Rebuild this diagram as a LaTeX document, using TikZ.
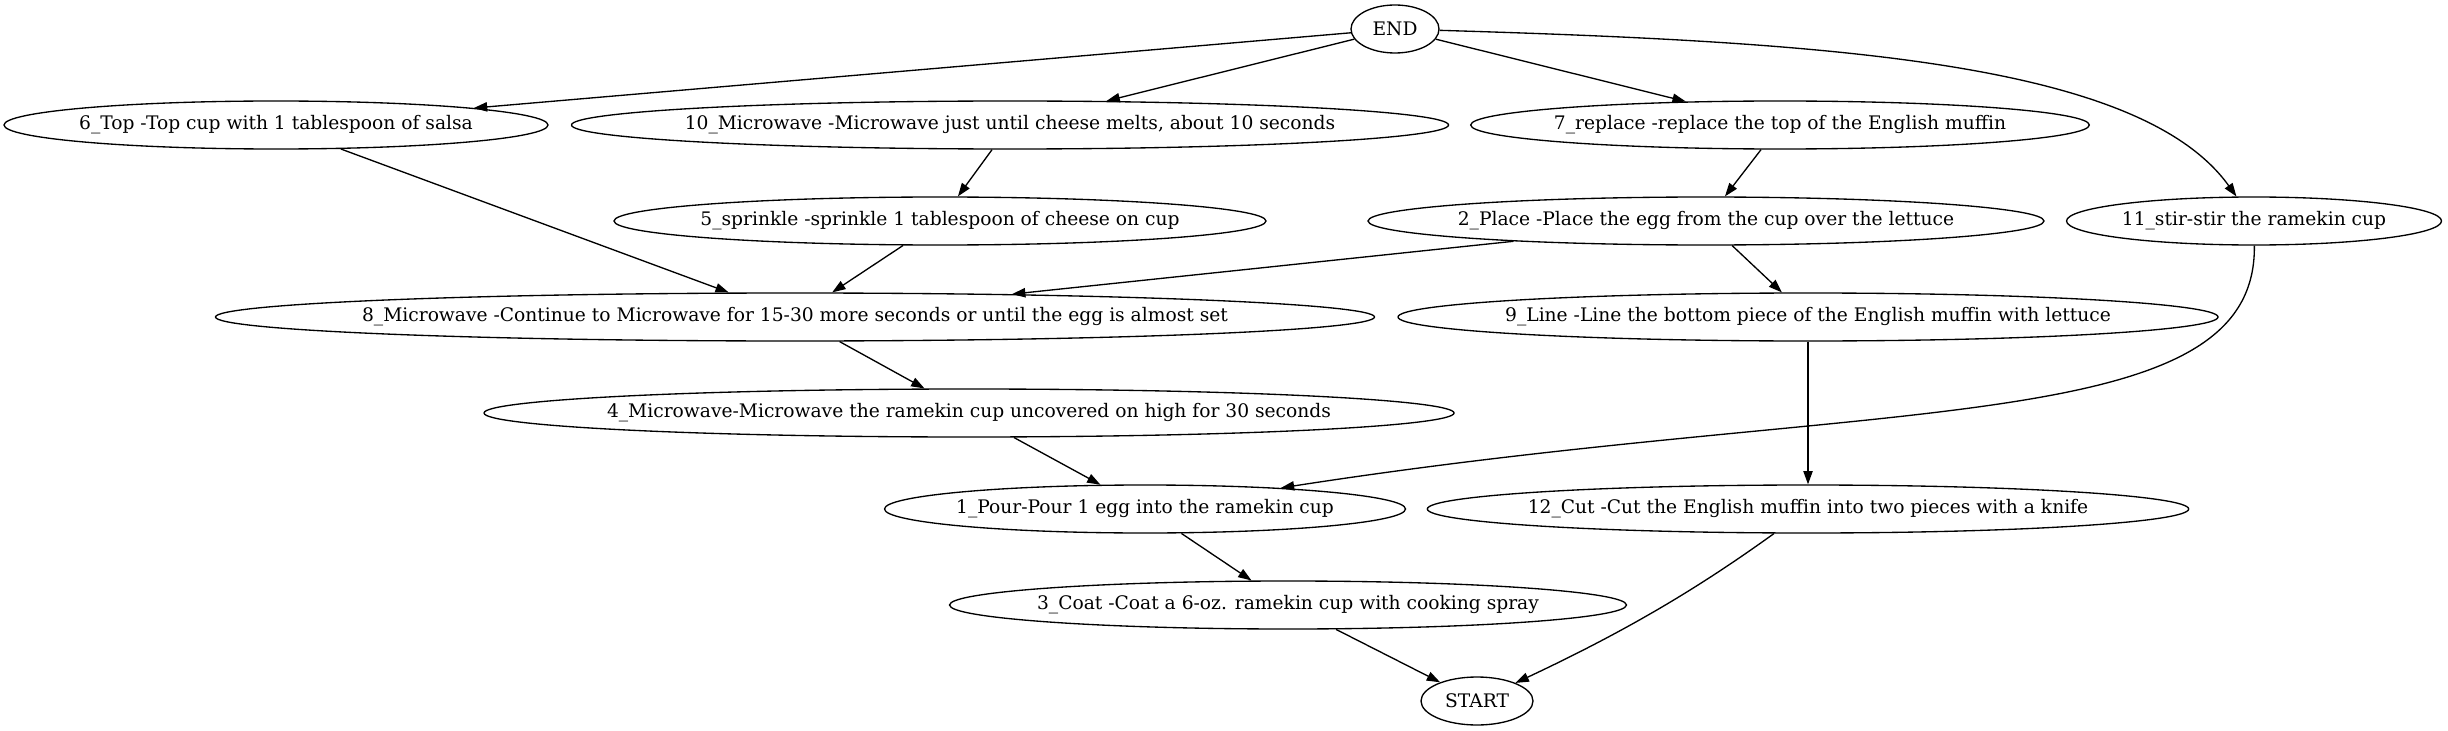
\documentclass[tikz,border=0pt]{standalone}
\usepackage{fontspec}
\setmainfont{DejaVu Serif}
\usetikzlibrary{positioning, shapes.geometric, arrows.meta}
\tikzset{
  task/.style = {draw, ellipse, line width=1pt,
                 minimum height=36pt, inner xsep=-20pt, inner ysep=0pt,
                 font=\fontsize{14}{17}\selectfont},
  term/.style = {task, inner xsep=0pt},
  arr/.style  = {-{Triangle[length=10pt,width=7pt]}, line width=1pt},
}

\begin{document}
\begin{tikzpicture}[x=0.75pt, y=-0.75pt]

% ────────────────────────────────────────────────────────────
%  Units are pixels of the 2448 x 731 frame (y grows downward)
%
%   rank 0 : y =  29   END
%   rank 1 : y = 125   6, 10, 7
%   rank 2 : y = 221   5, 2, 11
%   rank 3 : y = 317   8, 9
%   rank 4 : y = 413   4
%   rank 5 : y = 509   1, 12
%   rank 6 : y = 605   3
%   rank 7 : y = 701   START
% ────────────────────────────────────────────────────────────
\useasboundingbox (0,0) rectangle (2448,731);

% ═══════════════════════════════════════════════════════════
%  TOP  –  end node and first rank
% ═══════════════════════════════════════════════════════════
\node[term, minimum width=66pt] (tm-end) at (1395, 29) {END};

\node[task, minimum width=408pt]    (st6)  at (276, 125)
  {6\_Top -Top cup with 1 tablespoon of salsa};
\node[task, minimum width=657.75pt] (st10) at (1010, 125)
  {10\_Microwave -Microwave just until cheese melts, about 10 seconds};
\node[task, minimum width=464pt]    (st7)  at (1780, 125)
  {7\_replace -replace the top of the English muffin};

\draw[arr] (tm-end) -- (st6);
\draw[arr] (tm-end) -- (st10);
\draw[arr] (tm-end) -- (st7);

% ═══════════════════════════════════════════════════════════
%  MIDDLE  –  ranks 2 to 4
% ═══════════════════════════════════════════════════════════
\node[task, minimum width=489pt]    (st5)  at (940, 221)
  {5\_sprinkle -sprinkle 1 tablespoon of cheese on cup};
\node[task, minimum width=507pt]    (st2)  at (1706, 221)
  {2\_Place -Place the egg from the cup over the lettuce};
\node[task, minimum width=281.25pt] (st11) at (2254, 221)
  {11\_stir-stir the ramekin cup};

\draw[arr] (st10) -- (st5);
\draw[arr] (st7)  -- (st2);
\draw[arr] (tm-end) .. controls (1830, 42) and (2140, 62) .. (st11);

\node[task, minimum width=869.25pt] (st8)  at (795, 317)
  {8\_Microwave -Continue to Microwave for 15-30 more seconds or until the egg is almost set};
\node[task, minimum width=615pt]    (st9)  at (1808, 317)
  {9\_Line -Line the bottom piece of the English muffin with lettuce};

\draw[arr] (st6) -- (st8);
\draw[arr] (st5) -- (st8);
\draw[arr] (st2) -- (st8);
\draw[arr] (st2) -- (st9);

\node[task, minimum width=727.5pt]  (st4)  at (969, 413)
  {4\_Microwave-Microwave the ramekin cup uncovered on high for 30 seconds};

\draw[arr] (st8) -- (st4);

% ═══════════════════════════════════════════════════════════
%  BOTTOM  –  ranks 5 to 7 and the start node
% ═══════════════════════════════════════════════════════════
\node[task, minimum width=390.75pt] (st1)  at (1145, 509)
  {1\_Pour-Pour 1 egg into the ramekin cup};
\node[task, minimum width=571pt]    (st12) at (1808, 509)
  {12\_Cut -Cut the English muffin into two pieces with a knife};

\draw[arr] (st4) -- (st1);
\draw[arr] (st11) .. controls (2257, 440) and (1880, 395) .. (st1);
\draw[arr] (st9) -- (st12);

\node[task, minimum width=507.75pt] (st3)  at (1288, 605)
  {3\_Coat -Coat a 6-oz. ramekin cup with cooking spray};

\draw[arr] (st1) -- (st3);

\node[term, minimum width=84pt] (tm-start) at (1477, 701) {START};

\draw[arr] (st3)  -- (tm-start);
\draw[arr] (st12) .. controls (1697, 589) and (1626, 631) .. (tm-start);

\end{tikzpicture}
\end{document}
